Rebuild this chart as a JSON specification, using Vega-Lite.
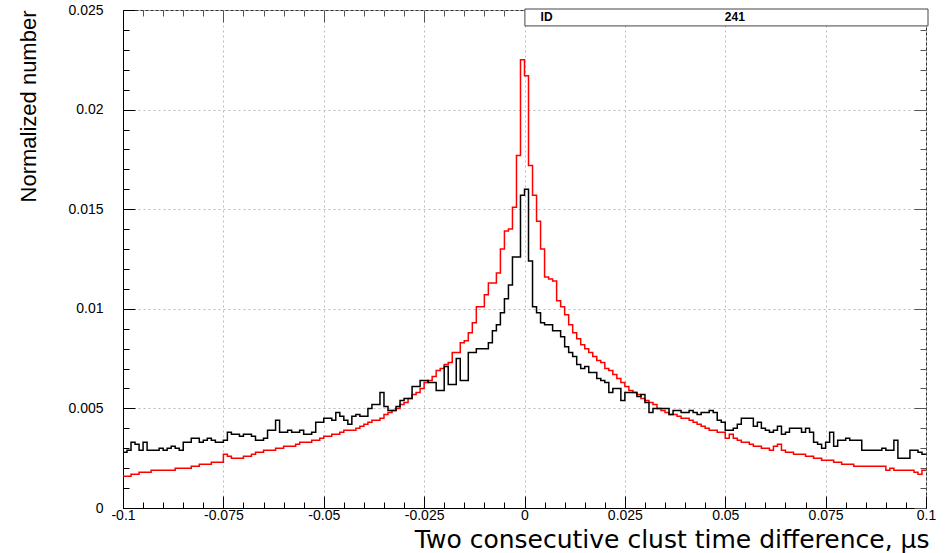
{
"$schema": "https://vega.github.io/schema/vega-lite/v6.json",
"width": 803, "height": 498,
"autosize": {"type": "none"},
"padding": {"left": 123, "top": 10, "right": 26, "bottom": 45},
"background": "white",
"config": {"view": {"stroke": "#333", "strokeWidth": 1}, "font": "Liberation Sans"},
"data": {"values": [
{"x":-0.100,"r":0.0016,"k":0.0028},{"x":-0.099,"r":0.0016,"k":0.0029},{"x":-0.098,"r":0.0017,"k":0.0033},{"x":-0.097,"r":0.0017,"k":0.0032},{"x":-0.096,"r":0.0018,"k":0.0029},
{"x":-0.095,"r":0.0018,"k":0.0033},{"x":-0.094,"r":0.0018,"k":0.0029},{"x":-0.093,"r":0.0019,"k":0.0029},{"x":-0.092,"r":0.0019,"k":0.0029},{"x":-0.091,"r":0.0019,"k":0.0030},
{"x":-0.090,"r":0.0019,"k":0.0029},{"x":-0.089,"r":0.0019,"k":0.0030},{"x":-0.088,"r":0.0019,"k":0.0031},{"x":-0.087,"r":0.0020,"k":0.0030},{"x":-0.086,"r":0.0020,"k":0.0029},
{"x":-0.085,"r":0.0020,"k":0.0033},{"x":-0.084,"r":0.0020,"k":0.0033},{"x":-0.083,"r":0.0021,"k":0.0035},{"x":-0.082,"r":0.0021,"k":0.0035},{"x":-0.081,"r":0.0022,"k":0.0033},
{"x":-0.080,"r":0.0022,"k":0.0034},{"x":-0.079,"r":0.0022,"k":0.0035},{"x":-0.078,"r":0.0023,"k":0.0034},{"x":-0.077,"r":0.0023,"k":0.0033},{"x":-0.076,"r":0.0023,"k":0.0033},
{"x":-0.075,"r":0.0027,"k":0.0034},{"x":-0.074,"r":0.0026,"k":0.0038},{"x":-0.073,"r":0.0025,"k":0.0037},{"x":-0.072,"r":0.0025,"k":0.0037},{"x":-0.071,"r":0.0025,"k":0.0036},
{"x":-0.070,"r":0.0026,"k":0.0037},{"x":-0.069,"r":0.0026,"k":0.0037},{"x":-0.068,"r":0.0027,"k":0.0036},{"x":-0.067,"r":0.0028,"k":0.0034},{"x":-0.066,"r":0.0028,"k":0.0034},
{"x":-0.065,"r":0.0029,"k":0.0035},{"x":-0.064,"r":0.0029,"k":0.0039},{"x":-0.063,"r":0.0029,"k":0.0039},{"x":-0.062,"r":0.0030,"k":0.0044},{"x":-0.061,"r":0.0030,"k":0.0038},
{"x":-0.060,"r":0.0031,"k":0.0038},{"x":-0.059,"r":0.0031,"k":0.0039},{"x":-0.058,"r":0.0031,"k":0.0038},{"x":-0.057,"r":0.0032,"k":0.0038},{"x":-0.056,"r":0.0033,"k":0.0039},
{"x":-0.055,"r":0.0033,"k":0.0037},{"x":-0.054,"r":0.0033,"k":0.0037},{"x":-0.053,"r":0.0034,"k":0.0038},{"x":-0.052,"r":0.0034,"k":0.0043},{"x":-0.051,"r":0.0035,"k":0.0043},
{"x":-0.050,"r":0.0036,"k":0.0045},{"x":-0.049,"r":0.0036,"k":0.0045},{"x":-0.048,"r":0.0037,"k":0.0044},{"x":-0.047,"r":0.0037,"k":0.0048},{"x":-0.046,"r":0.0038,"k":0.0046},
{"x":-0.045,"r":0.0039,"k":0.0044},{"x":-0.044,"r":0.0039,"k":0.0042},{"x":-0.043,"r":0.0039,"k":0.0046},{"x":-0.042,"r":0.0040,"k":0.0047},{"x":-0.041,"r":0.0041,"k":0.0046},
{"x":-0.040,"r":0.0042,"k":0.0046},{"x":-0.039,"r":0.0043,"k":0.0050},{"x":-0.038,"r":0.0044,"k":0.0052},{"x":-0.037,"r":0.0044,"k":0.0052},{"x":-0.036,"r":0.0045,"k":0.0058},
{"x":-0.035,"r":0.0047,"k":0.0051},{"x":-0.034,"r":0.0048,"k":0.0049},{"x":-0.033,"r":0.0049,"k":0.0049},{"x":-0.032,"r":0.0050,"k":0.0051},{"x":-0.031,"r":0.0052,"k":0.0054},
{"x":-0.030,"r":0.0053,"k":0.0055},{"x":-0.029,"r":0.0055,"k":0.0055},{"x":-0.028,"r":0.0057,"k":0.0061},{"x":-0.027,"r":0.0058,"k":0.0061},{"x":-0.026,"r":0.0060,"k":0.0064},
{"x":-0.025,"r":0.0063,"k":0.0064},{"x":-0.024,"r":0.0064,"k":0.0063},{"x":-0.023,"r":0.0066,"k":0.0063},{"x":-0.022,"r":0.0069,"k":0.0059},{"x":-0.021,"r":0.0070,"k":0.0059},
{"x":-0.020,"r":0.0072,"k":0.0071},{"x":-0.019,"r":0.0073,"k":0.0062},{"x":-0.018,"r":0.0078,"k":0.0062},{"x":-0.017,"r":0.0078,"k":0.0075},{"x":-0.016,"r":0.0083,"k":0.0064},
{"x":-0.015,"r":0.0084,"k":0.0064},{"x":-0.014,"r":0.0088,"k":0.0078},{"x":-0.013,"r":0.0093,"k":0.0078},{"x":-0.012,"r":0.0101,"k":0.0080},{"x":-0.011,"r":0.0101,"k":0.0080},
{"x":-0.010,"r":0.0107,"k":0.0080},{"x":-0.009,"r":0.0113,"k":0.0083},{"x":-0.008,"r":0.0113,"k":0.0089},{"x":-0.007,"r":0.0118,"k":0.0092},{"x":-0.006,"r":0.0130,"k":0.0098},
{"x":-0.005,"r":0.0139,"k":0.0105},{"x":-0.004,"r":0.0140,"k":0.0112},{"x":-0.003,"r":0.0151,"k":0.0126},{"x":-0.002,"r":0.0177,"k":0.0126},{"x":-0.001,"r":0.0225,"k":0.0157},
{"x":0.000,"r":0.0217,"k":0.0160},{"x":0.001,"r":0.0172,"k":0.0124},{"x":0.002,"r":0.0157,"k":0.0101},{"x":0.003,"r":0.0144,"k":0.0098},{"x":0.004,"r":0.0130,"k":0.0093},
{"x":0.005,"r":0.0116,"k":0.0092},{"x":0.006,"r":0.0115,"k":0.0092},{"x":0.007,"r":0.0114,"k":0.0089},{"x":0.008,"r":0.0104,"k":0.0089},{"x":0.009,"r":0.0101,"k":0.0086},
{"x":0.010,"r":0.0097,"k":0.0081},{"x":0.011,"r":0.0092,"k":0.0078},{"x":0.012,"r":0.0088,"k":0.0076},{"x":0.013,"r":0.0085,"k":0.0072},{"x":0.014,"r":0.0082,"k":0.0070},
{"x":0.015,"r":0.0080,"k":0.0071},{"x":0.016,"r":0.0078,"k":0.0068},{"x":0.017,"r":0.0076,"k":0.0068},{"x":0.018,"r":0.0074,"k":0.0065},{"x":0.019,"r":0.0073,"k":0.0064},
{"x":0.020,"r":0.0070,"k":0.0063},{"x":0.021,"r":0.0069,"k":0.0058},{"x":0.022,"r":0.0067,"k":0.0060},{"x":0.023,"r":0.0065,"k":0.0060},{"x":0.024,"r":0.0063,"k":0.0054},
{"x":0.025,"r":0.0061,"k":0.0058},{"x":0.026,"r":0.0059,"k":0.0058},{"x":0.027,"r":0.0058,"k":0.0058},{"x":0.028,"r":0.0057,"k":0.0056},{"x":0.029,"r":0.0055,"k":0.0057},
{"x":0.030,"r":0.0054,"k":0.0053},{"x":0.031,"r":0.0053,"k":0.0048},{"x":0.032,"r":0.0052,"k":0.0050},{"x":0.033,"r":0.0050,"k":0.0050},{"x":0.034,"r":0.0049,"k":0.0050},
{"x":0.035,"r":0.0048,"k":0.0050},{"x":0.036,"r":0.0047,"k":0.0047},{"x":0.037,"r":0.0047,"k":0.0049},{"x":0.038,"r":0.0046,"k":0.0049},{"x":0.039,"r":0.0045,"k":0.0048},
{"x":0.040,"r":0.0045,"k":0.0048},{"x":0.041,"r":0.0044,"k":0.0049},{"x":0.042,"r":0.0043,"k":0.0048},{"x":0.043,"r":0.0042,"k":0.0047},{"x":0.044,"r":0.0041,"k":0.0048},
{"x":0.045,"r":0.0040,"k":0.0048},{"x":0.046,"r":0.0039,"k":0.0049},{"x":0.047,"r":0.0039,"k":0.0048},{"x":0.048,"r":0.0038,"k":0.0044},{"x":0.049,"r":0.0038,"k":0.0043},
{"x":0.050,"r":0.0035,"k":0.0039},{"x":0.051,"r":0.0037,"k":0.0039},{"x":0.052,"r":0.0035,"k":0.0040},{"x":0.053,"r":0.0034,"k":0.0042},{"x":0.054,"r":0.0033,"k":0.0045},
{"x":0.055,"r":0.0033,"k":0.0045},{"x":0.056,"r":0.0032,"k":0.0045},{"x":0.057,"r":0.0031,"k":0.0041},{"x":0.058,"r":0.0031,"k":0.0043},{"x":0.059,"r":0.0030,"k":0.0040},
{"x":0.060,"r":0.0030,"k":0.0039},{"x":0.061,"r":0.0029,"k":0.0038},{"x":0.062,"r":0.0031,"k":0.0039},{"x":0.063,"r":0.0032,"k":0.0041},{"x":0.064,"r":0.0029,"k":0.0037},
{"x":0.065,"r":0.0028,"k":0.0038},{"x":0.066,"r":0.0028,"k":0.0040},{"x":0.067,"r":0.0027,"k":0.0040},{"x":0.068,"r":0.0027,"k":0.0040},{"x":0.069,"r":0.0027,"k":0.0038},
{"x":0.070,"r":0.0026,"k":0.0040},{"x":0.071,"r":0.0026,"k":0.0038},{"x":0.072,"r":0.0025,"k":0.0033},{"x":0.073,"r":0.0025,"k":0.0032},{"x":0.074,"r":0.0024,"k":0.0030},
{"x":0.075,"r":0.0024,"k":0.0033},{"x":0.076,"r":0.0024,"k":0.0038},{"x":0.077,"r":0.0023,"k":0.0031},{"x":0.078,"r":0.0023,"k":0.0034},{"x":0.079,"r":0.0022,"k":0.0034},
{"x":0.080,"r":0.0022,"k":0.0035},{"x":0.081,"r":0.0022,"k":0.0034},{"x":0.082,"r":0.0021,"k":0.0034},{"x":0.083,"r":0.0021,"k":0.0034},{"x":0.084,"r":0.0021,"k":0.0029},
{"x":0.085,"r":0.0021,"k":0.0029},{"x":0.086,"r":0.0021,"k":0.0029},{"x":0.087,"r":0.0021,"k":0.0029},{"x":0.088,"r":0.0021,"k":0.0029},{"x":0.089,"r":0.0021,"k":0.0030},
{"x":0.090,"r":0.0019,"k":0.0029},{"x":0.091,"r":0.0020,"k":0.0029},{"x":0.092,"r":0.0019,"k":0.0034},{"x":0.093,"r":0.0019,"k":0.0025},{"x":0.094,"r":0.0019,"k":0.0025},
{"x":0.095,"r":0.0019,"k":0.0025},{"x":0.096,"r":0.0019,"k":0.0029},{"x":0.097,"r":0.0018,"k":0.0029},{"x":0.098,"r":0.0017,"k":0.0028},{"x":0.099,"r":0.0019,"k":0.0027},
{"x":0.100,"r":0.0019,"k":0.0027}
]},
"resolve": {"axis": {"x": "independent", "y": "independent"}},
"layer": [
{
"mark": {"type": "line", "interpolate": "step-after", "color": "#ff0000", "strokeWidth": 1.5},
"encoding": {
"x": {"field": "x", "type": "quantitative",
 "scale": {"domain": [-0.1, 0.1], "nice": false, "zero": false},
 "axis": {"orient": "bottom",
  "values": [-0.1,-0.095,-0.09,-0.085,-0.08,-0.075,-0.07,-0.065,-0.06,-0.055,-0.05,-0.045,-0.04,-0.035,-0.03,-0.025,-0.02,-0.015,-0.01,-0.005,0,0.005,0.01,0.015,0.02,0.025,0.03,0.035,0.04,0.045,0.05,0.055,0.06,0.065,0.07,0.075,0.08,0.085,0.09,0.095,0.1],
  "labelExpr": "abs(datum.value*40 - round(datum.value*40)) < 0.000001 ? toString(round(datum.value*1000)/1000) : ''",
  "tickSize": {"condition": {"test": "abs(datum.value*40 - round(datum.value*40)) < 0.000001", "value": -12}, "value": -6},
  "tickColor": "#000", "domainColor": "#000",
  "grid": true, "gridDash": [2, 3], "gridColor": "#bbb",
  "gridOpacity": {"condition": {"test": "abs(datum.value*40 - round(datum.value*40)) < 0.000001", "value": 1}, "value": 0},
  "labelFlush": false, "labelOverlap": false, "labelBound": false,
  "labelFont": "Liberation Sans", "labelFontSize": 14, "labelColor": "#000", "labelPadding": 12,
  "title": "Two consecutive clust time difference, μs",
  "titleFont": "DejaVu Sans", "titleFontSize": 25, "titleFontWeight": "normal", "titleColor": "#000",
  "titleAnchor": "end", "titleAlign": "right", "titleX": 806, "titleY": 39, "titleBaseline": "alphabetic"}},
"y": {"field": "r", "type": "quantitative",
 "scale": {"domain": [0, 0.025], "nice": false, "zero": false},
 "axis": {"orient": "left",
  "values": [0,0.001,0.002,0.003,0.004,0.005,0.006,0.007,0.008,0.009,0.01,0.011,0.012,0.013,0.014,0.015,0.016,0.017,0.018,0.019,0.02,0.021,0.022,0.023,0.024,0.025],
  "labelExpr": "abs(datum.value*200 - round(datum.value*200)) < 0.000001 ? toString(round(datum.value*1000)/1000) : ''",
  "tickSize": {"condition": {"test": "abs(datum.value*200 - round(datum.value*200)) < 0.000001", "value": -12}, "value": -6},
  "tickColor": "#000", "domainColor": "#000",
  "grid": true, "gridDash": [2, 3], "gridColor": "#bbb",
  "gridOpacity": {"condition": {"test": "abs(datum.value*200 - round(datum.value*200)) < 0.000001", "value": 1}, "value": 0},
  "labelFlush": false, "labelOverlap": false, "labelBound": false,
  "labelFont": "Liberation Sans", "labelFontSize": 14, "labelColor": "#000", "labelPadding": 32,
  "title": "Normalized number",
  "titleFont": "Liberation Sans", "titleFontSize": 22, "titleFontWeight": "normal", "titleColor": "#000",
  "titleAngle": 270, "titleAlign": "right", "titleBaseline": "middle", "titleX": -95, "titleY": 0}}
}
},
{
"mark": {"type": "line", "interpolate": "step-after", "color": "#000000", "strokeWidth": 1.5},
"encoding": {
"x": {"field": "x", "type": "quantitative",
 "axis": {"orient": "top", "values": [-0.1,-0.095,-0.09,-0.085,-0.08,-0.075,-0.07,-0.065,-0.06,-0.055,-0.05,-0.045,-0.04,-0.035,-0.03,-0.025,-0.02,-0.015,-0.01,-0.005,0,0.005,0.01,0.015,0.02,0.025,0.03,0.035,0.04,0.045,0.05,0.055,0.06,0.065,0.07,0.075,0.08,0.085,0.09,0.095,0.1],
  "labels": false, "grid": false, "domain": false, "title": null, "tickColor": "#555",
  "tickSize": {"condition": {"test": "abs(datum.value*40 - round(datum.value*40)) < 0.000001", "value": -12}, "value": -6}}},
"y": {"field": "k", "type": "quantitative",
 "axis": {"orient": "right", "values": [0,0.001,0.002,0.003,0.004,0.005,0.006,0.007,0.008,0.009,0.01,0.011,0.012,0.013,0.014,0.015,0.016,0.017,0.018,0.019,0.02,0.021,0.022,0.023,0.024,0.025],
  "labels": false, "grid": false, "domain": false, "title": null, "tickColor": "#555",
  "tickSize": {"condition": {"test": "abs(datum.value*200 - round(datum.value*200)) < 0.000001", "value": -12}, "value": -6}}}
}
},
{
"data": {"values": [{"name": "ID", "entries": 241}]},
"mark": {"type": "rect", "fill": "white", "stroke": "#444", "strokeWidth": 1},
"encoding": {
"x": {"datum": 0.0001, "type": "quantitative", "axis": null},
"x2": {"datum": 0.1005},
"y": {"datum": 0.0242, "type": "quantitative", "axis": null},
"y2": {"datum": 0.02505}
}
},
{
"data": {"values": [{"name": "ID", "entries": 241}]},
"mark": {"type": "text", "align": "left", "baseline": "middle", "fontSize": 12, "font": "Liberation Sans", "fontWeight": "bold", "color": "#000"},
"encoding": {
"x": {"datum": 0.004, "type": "quantitative", "axis": null},
"y": {"datum": 0.02465, "type": "quantitative", "axis": null},
"text": {"field": "name"}
}
},
{
"data": {"values": [{"name": "ID", "entries": 241}]},
"mark": {"type": "text", "align": "center", "baseline": "middle", "fontSize": 12, "font": "Liberation Sans", "fontWeight": "bold", "color": "#000"},
"encoding": {
"x": {"datum": 0.0524, "type": "quantitative", "axis": null},
"y": {"datum": 0.02465, "type": "quantitative", "axis": null},
"text": {"field": "entries", "type": "quantitative"}
}
}
]
}
